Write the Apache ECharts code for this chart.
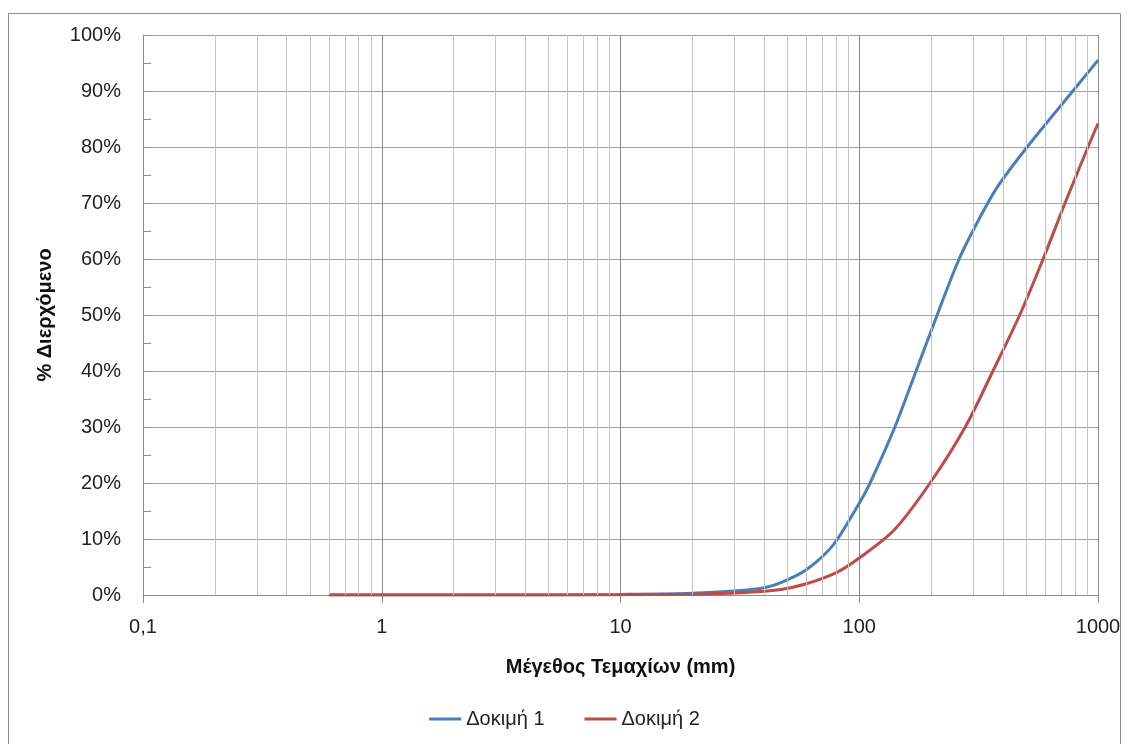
<!DOCTYPE html>
<html lang="el">
<head>
<meta charset="UTF-8">
<title>Κοκκομετρική καμπύλη</title>
<script src="https://cdn.jsdelivr.net/npm/echarts@6/dist/echarts.min.js"></script>
<style>
    html, body { margin: 0; padding: 0; background: #fff; }
    #container { width: 1129px; height: 744px; }
</style>
</head>
<body>
<div id="container"></div>
<script type="text/javascript">
    // μέγεθος (mm) / % διερχόμενο
    const sizes1 = [0.6, 1, 5, 10, 20, 30, 40, 47, 60, 78, 100, 111, 141, 173, 212, 262, 321, 378, 505, 785, 1000];
    const pass1  = [0, 0, 0.02, 0.1, 0.3, 0.7, 1.3, 2.2, 4.5, 9, 16.4, 20, 30, 40, 50, 60, 67.5, 72.8, 80, 90, 95.5];
    const sizes2 = [0.6, 1, 5, 10, 20, 30, 47, 60, 81, 100, 140, 198, 278, 363, 470, 589, 728, 908, 1000];
    const pass2  = [0, 0, 0, 0.05, 0.15, 0.35, 1, 2, 4.1, 6.6, 11.6, 20, 30, 40, 50, 60, 70, 80, 84.2];
    const seriesNames = ['Δοκιμή 1', 'Δοκιμή 2'];
    const xName = 'Μέγεθος Τεμαχίων (mm)';
    const yName = '% Διερχόμενο';

    const dom = document.getElementById('container');
    const myChart = echarts.init(dom, null, { renderer: 'canvas' });

    // ενδιάμεσες γραμμές πλέγματος του λογαριθμικού άξονα (2..9 σε κάθε δεκάδα)
    const minorLines = [];
    for (let d = -1; d < 3; d++) {
        for (let k = 2; k <= 9; k++) {
            minorLines.push({ xAxis: +(k * Math.pow(10, d)).toPrecision(3) });
        }
    }

    const font = 'Liberation Sans';
    const option = {
        animation: false,
        textStyle: { fontFamily: font },
        graphic: [{
            type: 'rect',
            shape: { x: 8.5, y: 13.5, width: 1112, height: 740 },
            style: { fill: 'none', stroke: '#8c8c8c', lineWidth: 1 },
            silent: true
        }],
        grid: { left: 143, right: 31, top: 35, bottom: 149 },
        legend: {
            data: seriesNames,
            bottom: 10,
            left: 'center',
            icon: 'rect',
            itemWidth: 32,
            itemHeight: 3,
            itemGap: 40,
            textStyle: { fontFamily: font, fontSize: 20, color: '#222' }
        },
        xAxis: {
            type: 'log',
            logBase: 10,
            min: 0.1,
            max: 1000,
            name: xName,
            nameLocation: 'middle',
            nameGap: 62,
            nameTextStyle: { fontFamily: font, fontSize: 20, fontWeight: 'bold', color: '#111' },
            axisLine: { show: true, lineStyle: { color: '#8c8c8c' } },
            axisTick: { show: true, length: 8, lineStyle: { color: '#8c8c8c' } },
            axisLabel: {
                fontSize: 20, color: '#222', margin: 22,
                formatter: v => String(v).replace('.', ',')
            },
            splitLine: { show: true, lineStyle: { color: '#8c8c8c' } }
        },
        yAxis: {
            type: 'value',
            min: 0,
            max: 100,
            interval: 10,
            name: yName,
            nameLocation: 'middle',
            nameGap: 88,
            nameTextStyle: { fontFamily: font, fontSize: 20, fontWeight: 'bold', color: '#111' },
            axisLine: { show: true, lineStyle: { color: '#8c8c8c' } },
            axisTick: { show: true, inside: true, length: 8, lineStyle: { color: '#8c8c8c' } },
            minorTick: { show: true, splitNumber: 2, length: 8, lineStyle: { color: '#8c8c8c' } },
            axisLabel: { fontSize: 20, color: '#222', margin: 22, formatter: '{value}%' },
            splitLine: { show: true, lineStyle: { color: '#a0a0a0' } }
        },
        series: [
            {
                name: 'grid-minor',
                type: 'line',
                data: [[1, 0]],
                symbol: 'none',
                lineStyle: { opacity: 0 },
                silent: true,
                z: 1,
                markLine: {
                    silent: true,
                    symbol: 'none',
                    label: { show: false },
                    lineStyle: { color: '#c4c4c4', type: 'solid', width: 1 },
                    data: minorLines
                }
            },
            {
                name: seriesNames[0],
                type: 'line',
                smooth: 0.3,
                symbol: 'none',
                data: sizes1.map((s, i) => [s, pass1[i]]),
                itemStyle: { color: '#4a7ebb' },
                lineStyle: { color: '#4a7ebb', width: 3 },
                z: 3
            },
            {
                name: seriesNames[1],
                type: 'line',
                smooth: 0.3,
                symbol: 'none',
                data: sizes2.map((s, i) => [s, pass2[i]]),
                itemStyle: { color: '#be4b48' },
                lineStyle: { color: '#be4b48', width: 3 },
                z: 4
            }
        ]
    };

    myChart.setOption(option);
    window.addEventListener('resize', myChart.resize);
</script>
</body>
</html>
